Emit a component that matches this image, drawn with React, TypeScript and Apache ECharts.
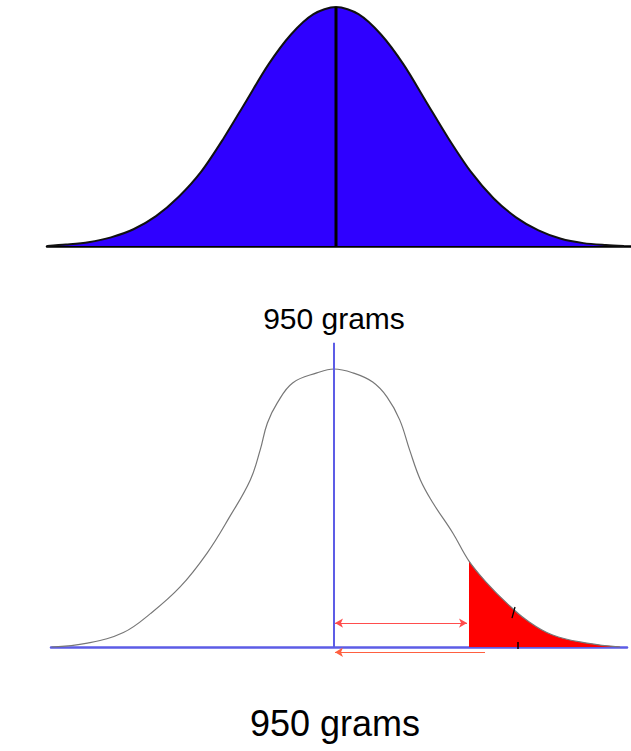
import React, { useEffect, useRef } from "react";
import * as echarts from "echarts";

// Upper bell curve (x in standard units from the mean, y relative height)
const topX = [-3.21, -3.0, -2.75, -2.5, -2.25, -2.0, -1.75, -1.5, -1.25, -1.0, -0.75, -0.5, -0.25, 0, 0.25, 0.5, 0.75, 1.0, 1.25, 1.5, 1.75, 2.0, 2.25, 2.5, 2.75, 3.0, 3.2];
const topY = [0.0, 0.006, 0.016, 0.036, 0.07, 0.125, 0.205, 0.31, 0.45, 0.605, 0.76, 0.885, 0.97, 1.0, 0.97, 0.885, 0.76, 0.605, 0.45, 0.31, 0.2, 0.12, 0.065, 0.03, 0.012, 0.004, 0.0];

// Lower hand-drawn curve
const bottomX = [-3.14, -2.74, -2.34, -2.04, -1.71, -1.41, -1.16, -0.93, -0.82, -0.74, -0.63, -0.46, -0.19, 0, 0.21, 0.43, 0.59, 0.73, 0.84, 0.96, 1.1, 1.32, 1.5, 1.7, 1.92, 2.14, 2.43, 2.81, 3.18];
const bottomY = [0.0, 0.014, 0.052, 0.12, 0.216, 0.338, 0.468, 0.601, 0.709, 0.806, 0.878, 0.95, 0.986, 1.0, 0.986, 0.953, 0.899, 0.817, 0.709, 0.601, 0.518, 0.41, 0.309, 0.23, 0.158, 0.097, 0.043, 0.014, 0.0];

const shadeFrom = 1.5;
const labels = ["950 grams", "950 grams"];

export default function App() {
  const ref = useRef<HTMLDivElement>(null);
  useEffect(() => {
    document.body.style.margin = "0";
    const chart = echarts.init(ref.current!, null, { renderer: "svg" });
    const topData = topX.map((x, i) => [x, topY[i]]);
    const bottomData = bottomX.map((x, i) => [x, bottomY[i]]);
    const shadeData = bottomData.filter((d) => d[0] >= shadeFrom);
    const font = "'Liberation Sans', Arial, sans-serif";
    const hidden = {
      axisTick: { show: false },
      axisLabel: { show: false },
      splitLine: { show: false },
    };
    chart.setOption({
      animation: false,
      backgroundColor: "#ffffff",
      grid: [
        { left: 47, right: 0, top: 7, bottom: 505 },
        { left: 51, right: 4, top: 341.2, bottom: 90.1 },
      ],
      xAxis: [
        {
          gridIndex: 0,
          type: "value",
          min: -3.2111,
          max: 3.2778,
          axisLine: { show: true, onZero: true, lineStyle: { color: "#000", width: 2.5 } },
          ...hidden,
        },
        {
          gridIndex: 1,
          type: "value",
          min: -3.1444,
          max: 3.2556,
          axisLine: { show: true, onZero: true, lineStyle: { color: "#5c5ce6", width: 2.5 } },
          ...hidden,
        },
      ],
      yAxis: [
        { gridIndex: 0, type: "value", min: 0, max: 1, show: false },
        { gridIndex: 1, type: "value", min: -0.05, max: 1.1, show: false },
      ],
      series: [
        {
          type: "line",
          xAxisIndex: 0,
          yAxisIndex: 0,
          data: topData,
          smooth: 0.3,
          symbol: "none",
          lineStyle: { color: "#111", width: 2 },
          areaStyle: { color: "#2f00ff", opacity: 1 },
          z: 2,
        },
        {
          type: "line",
          xAxisIndex: 0,
          yAxisIndex: 0,
          data: [[0, 0], [0, 1]],
          symbol: "none",
          lineStyle: { color: "#000", width: 3 },
          z: 3,
        },
        {
          type: "line",
          xAxisIndex: 1,
          yAxisIndex: 1,
          data: shadeData,
          smooth: 0.4,
          symbol: "none",
          lineStyle: { width: 0 },
          areaStyle: { color: "#ff0000", opacity: 1 },
          z: 2,
        },
        {
          type: "line",
          xAxisIndex: 1,
          yAxisIndex: 1,
          data: bottomData,
          smooth: 0.4,
          symbol: "none",
          lineStyle: { color: "#777777", width: 1.2 },
          z: 3,
        },
        {
          type: "line",
          xAxisIndex: 1,
          yAxisIndex: 1,
          data: [[0, 0], [0, 1.094]],
          symbol: "none",
          lineStyle: { color: "#5c5ce6", width: 2 },
          z: 4,
          markLine: {
            silent: true,
            animation: false,
            symbol: ["none", "none"],
            label: { show: false },
            emphasis: { disabled: true },
            data: [
              [
                { coord: [0.011, 0.086], symbol: "arrow", symbolSize: [7, 8], lineStyle: { color: "#ff4d4d", width: 1, type: "solid" } },
                { coord: [1.478, 0.086], symbol: "arrow", symbolSize: [7, 8] },
              ],
              [
                { coord: [0.011, -0.019], symbol: "arrow", symbolSize: [7, 8], lineStyle: { color: "#ff6040", width: 1, type: "solid" } },
                { coord: [1.678, -0.019], symbol: "none" },
              ],
              [
                { coord: [1.978, 0.104], symbol: "none", lineStyle: { color: "#000", width: 1.3, type: "solid" } },
                { coord: [2.011, 0.144], symbol: "none" },
              ],
              [
                { coord: [2.044, 0.018], symbol: "none", lineStyle: { color: "#000", width: 1.5, type: "solid" } },
                { coord: [2.044, -0.007], symbol: "none" },
              ],
            ],
          },
        },
      ],
      graphic: [
        {
          type: "text",
          x: 334,
          y: 318.5,
          style: {
            text: labels[0],
            align: "center",
            verticalAlign: "middle",
            textAlign: "center",
            textVerticalAlign: "middle",
            fontSize: 30,
            fontFamily: font,
            fill: "#000",
          },
        },
        {
          type: "text",
          x: 335,
          y: 723.5,
          style: {
            text: labels[1],
            align: "center",
            verticalAlign: "middle",
            textAlign: "center",
            textVerticalAlign: "middle",
            fontSize: 36,
            fontFamily: font,
            fill: "#000",
          },
        },
      ],
    });
    return () => chart.dispose();
  }, []);
  return (
    <div
      ref={ref}
      style={{ position: "absolute", left: 0, top: 0, width: 631, height: 751, background: "#fff" }}
    />
  );
}
